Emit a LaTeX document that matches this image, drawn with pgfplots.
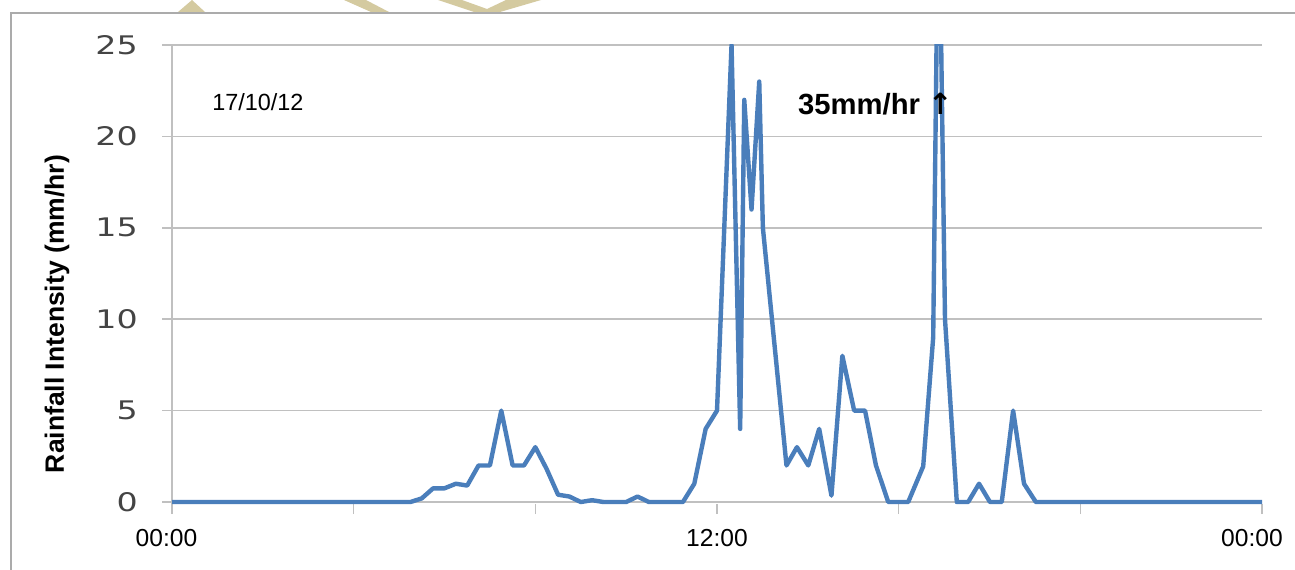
\documentclass[border=0pt]{standalone}
\usepackage{fontspec}
\setmainfont{Liberation Sans}
\newfontfamily\dejavu{DejaVu Sans}
\usepackage{pgfplots}
\pgfplotsset{compat=1.18}
\definecolor{series}{HTML}{4A7EBB}
\definecolor{gridc}{HTML}{C0C0C0}
\definecolor{framec}{HTML}{ABABAB}
\definecolor{ytext}{HTML}{444444}
\definecolor{khaki}{RGB}{212,202,160}
\begin{document}
\begin{tikzpicture}
\useasboundingbox (0,0) rectangle (647.5pt,284.5pt);
\fill[white] (0,0) rectangle (647.5pt,284.5pt);
% faint shapes at the top edge
\fill[khaki] (89pt,278.5pt) -- (96pt,284.5pt) -- (102.5pt,278.5pt) -- cycle;
\fill[khaki] (172pt,284.5pt) -- (183pt,284.5pt) -- (194.5pt,278.5pt) -- (185.5pt,278.5pt) -- cycle;
\fill[khaki] (219pt,284.5pt) -- (231pt,284.5pt) -- (243.5pt,280pt) -- (253pt,284.5pt) -- (270.5pt,284.5pt) -- (250pt,278.5pt) -- (237pt,278.5pt) -- cycle;
\draw[framec, line width=1pt] (5.5pt,-2pt) -- (5.5pt,278pt) -- (650pt,278pt);
\begin{axis}[
  at={(86pt,32.4pt)}, anchor=south west,
  scale only axis, width=545pt, height=229.6pt,
  xmin=0, xmax=24, ymin=-0.12, ymax=25,
  axis x line*=bottom, axis y line*=left,
  x axis line style={draw=none},
  y axis line style={draw=gridc, line width=1pt},
  xtick={0,4,...,24}, xticklabels={\hspace*{-5.5pt}00:00,,,12:00,,,\hspace*{-10pt}00:00},
  ytick={0,5,...,25},
  ymajorgrids, grid style={draw=gridc, line width=0.8pt},
  tick align=outside, major tick length=5pt,
  tick style={draw=gridc, line width=0.8pt},
  /pgf/number format/assume math mode=true,
  xticklabel style={font=\fontsize{12.3}{14}\selectfont, text=black, yshift=-4pt},
  yticklabel style={font=\dejavu\fontsize{12.8}{14}\selectfont, text=ytext, xshift=-7.5pt, xscale=1.3},
  ylabel={Rainfall Intensity (mm/hr)},
  ylabel style={at={(axis description cs:-0.1055,0.414)}, anchor=center, font=\bfseries\fontsize{13.25}{15}\selectfont},
]
\addplot[series, line width=2.2pt, line join=round] coordinates {
(0,0)(0.25,0)(0.5,0)(0.75,0)(1,0)(1.25,0)(1.5,0)(1.75,0)(2,0)(2.25,0)(2.5,0)(2.75,0)
(3,0)(3.25,0)(3.5,0)(3.75,0)(4,0)(4.25,0)(4.5,0)(4.75,0)(5,0)(5.25,0)(5.5,0.2)(5.75,0.75)
(6,0.75)(6.25,1.0)(6.5,0.9)(6.75,2.0)(7,2.0)(7.25,5.0)(7.5,2.0)(7.75,2.0)(8,3.0)(8.25,1.8)
(8.5,0.4)(8.75,0.3)(9,0)(9.25,0.1)(9.5,0)(9.75,0)(10,0)(10.25,0.3)(10.5,0)(10.75,0)(11,0)
(11.25,0)(11.5,1.0)(11.75,4.0)(12,5.0)
(12.32,25)(12.51,4)(12.60,22)(12.76,16)(12.93,23)(13.01,15)(13.53,2)(13.76,3)(14.01,2)
(14.25,4)(14.52,0.35)(14.76,8)(15.02,5)(15.26,5)(15.5,2)(15.77,0)(16.0,0)(16.21,0)
(16.54,1.95)(16.76,9)(16.88,35)(17.02,10)(17.28,0)(17.53,0)(17.77,1)(18.01,0)(18.27,0)
(18.52,5)(18.76,1)(19.02,0)(20,0)(21,0)(22,0)(23,0)(24,0)
};
\node[anchor=west, inner sep=0pt, font=\fontsize{11.7}{13}\selectfont] at (axis cs:0.88,21.88) {17/10/12};
\node[anchor=west, inner sep=0pt, font=\bfseries\fontsize{14.6}{16}\selectfont] at (axis cs:13.78,21.75) {35mm/hr {\dejavu\bfseries ↑}};
\end{axis}
\end{tikzpicture}
\end{document}
